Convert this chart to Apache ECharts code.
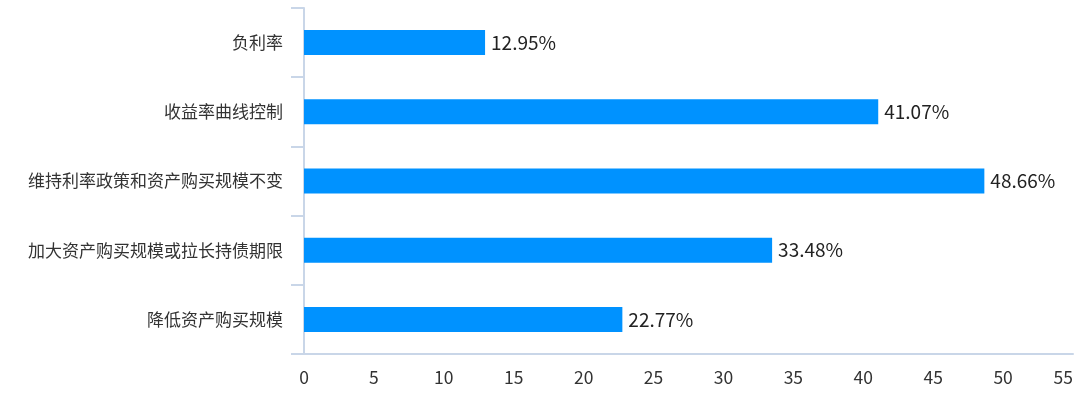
<!DOCTYPE html>
<html>
<head>
<meta charset="utf-8">
<script src="https://cdn.jsdelivr.net/npm/echarts@6/dist/echarts.min.js"></script>
<style>
html,body{margin:0;padding:0;background:#fff;}
#chart{width:1080px;height:394px;}
</style>
</head>
<body>
<div id="chart"></div>
<script>
var categories = ['降低资产购买规模', '加大资产购买规模或拉长持债期限', '维持利率政策和资产购买规模不变', '收益率曲线控制', '负利率'];
var values = [22.77, 33.48, 48.66, 41.07, 12.95];
var xTicks = [0, 5, 10, 15, 20, 25, 30, 35, 40, 45, 50, 55];

var chart = echarts.init(document.getElementById('chart'));
var font = '"Noto Sans CJK SC", "Noto Sans", sans-serif';
chart.setOption({
  animation: false,
  grid: {left: 304, right: 7, top: 8, bottom: 40, containLabel: false},
  xAxis: {
    type: 'value',
    min: xTicks[0],
    max: xTicks[xTicks.length - 1],
    interval: 5,
    axisLine: {show: true, lineStyle: {color: '#c9d6e8', width: 2}},
    axisTick: {show: false},
    splitLine: {show: false},
    axisLabel: {color: '#333', fontSize: 17.5, fontFamily: font, margin: 15, alignMaxLabel: 'right'}
  },
  yAxis: {
    type: 'category',
    data: categories,
    axisLine: {show: true, lineStyle: {color: '#c9d6e8', width: 2}},
    axisTick: {show: true, length: 13, lineStyle: {color: '#c9d6e8', width: 2}},
    axisLabel: {color: '#333', fontSize: 17, fontFamily: font, margin: 21}
  },
  series: [{
    type: 'bar',
    data: values,
    barWidth: 25,
    itemStyle: {color: '#0092ff'},
    label: {
      show: true,
      position: 'right',
      distance: 6,
      color: '#222',
      fontSize: 19,
      fontFamily: font,
      formatter: function (p) { return p.value.toFixed(2) + '%'; }
    }
  }]
});
</script>
</body>
</html>
